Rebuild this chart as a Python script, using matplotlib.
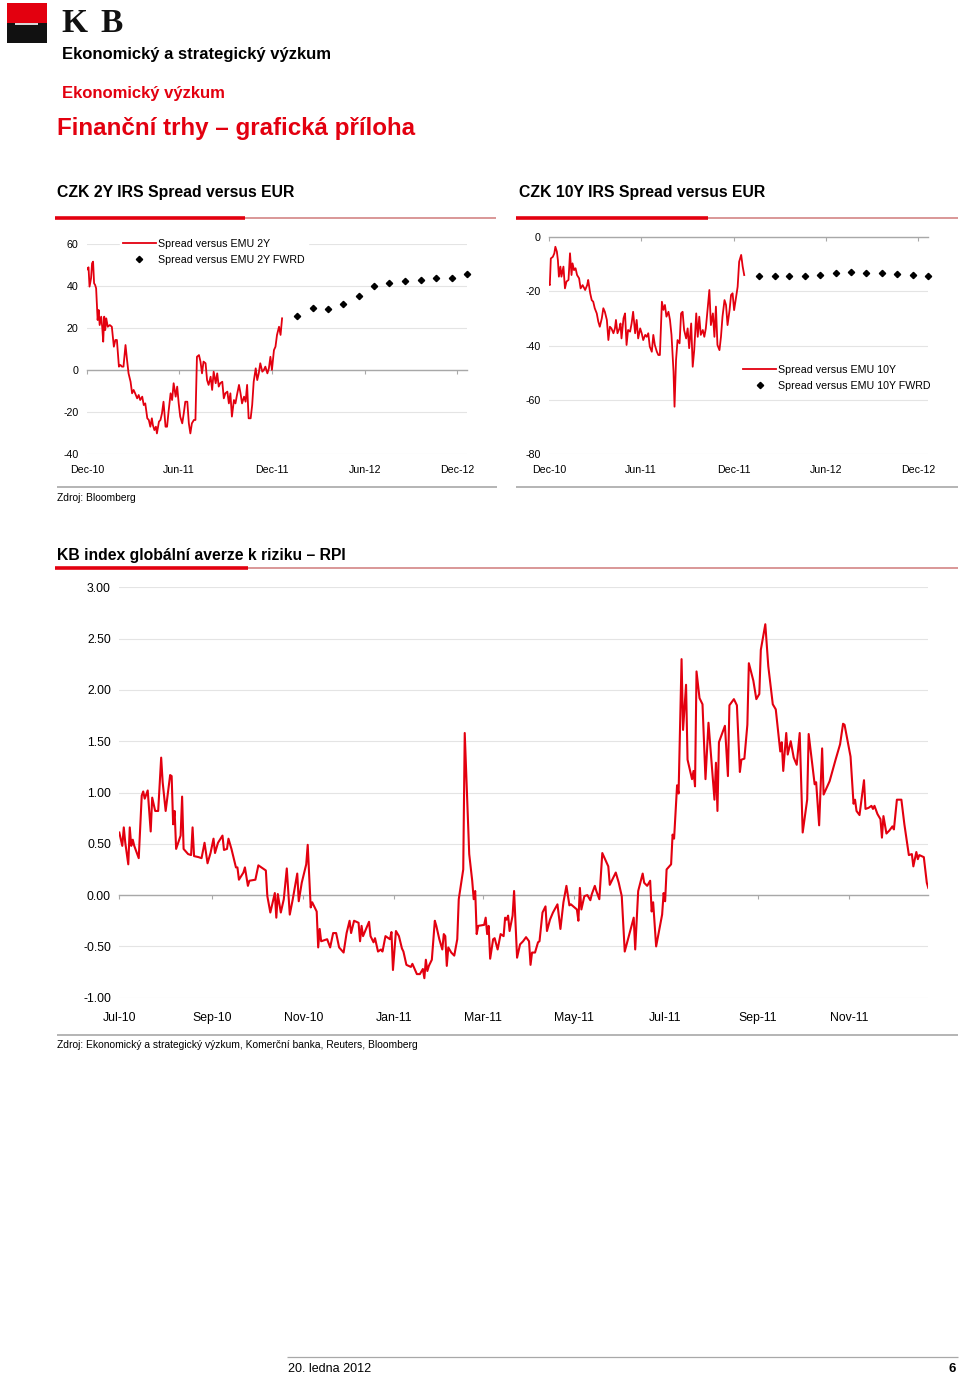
import numpy as np
import matplotlib
matplotlib.use('Agg')
import matplotlib.pyplot as plt
import matplotlib.dates as mdates
import matplotlib.ticker as mticker
from matplotlib.lines import Line2D
from matplotlib.patches import Rectangle

plt.rcParams['font.family'] = ['Liberation Sans', 'DejaVu Sans']

RED = '#e3000f'
GRID = '#e4e4e4'
AXIS = '#a8a8a8'

# --- CZK 2Y IRS spread vs EUR (bp); days after 1 Dec 2010 ---
spread2y_day = [0, 3, 5, 8, 10, 12, 14, 16, 18, 21, 23, 25, 28, 30, 32, 34, 36, 38, 41, 45,
                49, 53, 56, 59, 63, 66, 69, 72, 76, 79, 82, 86, 89, 92, 95, 99, 102, 105, 109, 112,
                115, 119, 122, 125, 128, 130, 133, 136, 138, 142, 145, 148, 151, 155, 158, 161, 165, 168, 171, 175,
                178, 181, 184, 188, 191, 194, 198, 201, 204, 207, 211, 214, 217, 221, 224, 227, 230, 234, 237, 240,
                244, 247, 250, 254, 257, 260, 263, 267, 270, 273, 277, 280, 283, 286, 290, 293, 296, 300, 303, 306,
                310, 313, 316, 319, 323, 326, 329, 333, 336, 339, 342, 346, 349, 352, 356, 359, 362, 365, 369, 372,
                375, 379, 382, 385]
spread2y = [47.9, 48.9, 39.7, 43.7, 50.8, 51.6, 41.3, 40.5, 38.9, 23.8, 28.6, 21.4, 25.4, 20.6, 13.5, 25.4, 19.0, 24.6, 20.6, 21.4,
            20.6, 11.1, 14.3, 14.3, 1.6, 2.4, 1.6, 1.6, 11.9, 4.8, -1.6, -5.6, -11.1, -9.5, -11.1, -13.5, -11.9, -14.3, -12.7, -16.7,
            -15.9, -23.0, -23.8, -27.0, -23.0, -26.2, -28.6, -27.0, -30.2, -24.6, -23.8, -20.6, -15.1, -27.0, -27.0, -19.8, -11.1, -14.3, -6.3, -12.7,
            -7.9, -15.9, -22.2, -25.4, -20.6, -15.1, -15.1, -25.4, -30.2, -25.4, -23.8, -23.8, 6.3, 7.1, 4.0, -1.6, 4.0, 3.2, -4.8, -7.1,
            -3.2, -9.5, -0.8, -6.3, -1.6, -7.9, -6.3, -5.6, -13.5, -11.1, -10.3, -15.9, -11.1, -22.2, -14.3, -15.9, -11.9, -7.1, -11.1, -15.9,
            -12.7, -15.1, -7.1, -23.0, -23.0, -16.7, -5.6, 0.8, -4.8, -1.6, 3.2, -0.8, 0.0, 1.6, -1.6, 0.8, 6.3, 0.0, 9.5, 11.1,
            16.7, 20.6, 16.7, 24.6]

fwrd_dates = ['2012-01-20', '2012-02-20', '2012-03-20', '2012-04-20', '2012-05-20', '2012-06-20',
              '2012-07-20', '2012-08-20', '2012-09-20', '2012-10-20', '2012-11-20', '2012-12-20']
fwrd2y = [25.6, 29.7, 28.9, 31.3, 35.2, 40.0, 41.4, 42.4, 43.0, 43.7, 44.0, 45.9]

# --- CZK 10Y IRS spread vs EUR (bp); days after 1 Dec 2010 ---
spread10y_day = [0, 1, 3, 7, 10, 12, 15, 17, 19, 22, 24, 28, 31, 34, 38, 41, 44, 46, 49, 52,
                 55, 59, 62, 66, 71, 75, 77, 81, 84, 87, 90, 94, 97, 100, 104, 107, 110, 114, 117, 120,
                 123, 127, 130, 132, 135, 139, 141, 143, 147, 150, 153, 156, 160, 163, 166, 170, 173, 176, 180, 183,
                 186, 190, 193, 196, 199, 203, 206, 209, 213, 216, 219, 223, 226, 229, 232, 236, 239, 242, 246, 248,
                 251, 254, 258, 261, 264, 267, 271, 274, 277, 281, 284, 287, 291, 294, 297, 300, 304, 307, 310, 314,
                 317, 320, 324, 327, 330, 333, 337, 340, 343, 347, 350, 353, 357, 360, 363, 366, 370, 373, 376, 380,
                 383, 386]
spread10y = [-17.5, -17.8, -8.0, -7.4, -6.1, -3.7, -5.5, -8.6, -14.7, -11.0, -14.7, -11.0, -19.0, -16.5, -15.9, -6.1, -14.1, -9.8, -12.3, -11.6,
             -14.1, -15.3, -19.0, -17.8, -19.6, -17.8, -15.9, -20.8, -23.3, -23.9, -26.3, -28.2, -31.2, -33.1, -30.0, -26.3, -27.6, -30.6, -38.0, -33.1,
             -33.7, -35.5, -33.7, -30.6, -35.5, -33.7, -31.9, -37.4, -30.0, -28.2, -39.8, -34.3, -34.9, -31.9, -27.6, -35.5, -30.6, -37.4, -33.7, -35.5,
             -38.0, -36.1, -36.8, -35.5, -40.4, -42.3, -36.1, -39.8, -42.3, -43.5, -43.5, -23.9, -26.9, -25.1, -29.4, -27.6, -30.6, -36.1, -49.6, -62.5,
             -45.3, -38.0, -39.2, -28.2, -27.6, -34.3, -37.4, -33.7, -41.0, -31.9, -47.8, -41.7, -28.2, -36.8, -29.4, -36.1, -34.3, -36.8, -33.7, -25.7,
             -19.6, -32.5, -28.2, -36.8, -25.7, -39.8, -41.7, -36.8, -29.4, -23.3, -25.1, -32.5, -27.0, -21.4, -20.8, -27.0, -22.1, -18.4, -9.2, -6.7,
             -11.0, -14.1]
fwrd10y = [-14.4, -14.4, -14.4, -14.3, -14.0, -13.2, -13.1, -13.2, -13.5, -13.8, -14.2, -14.6]

# --- KB risk aversion index (RPI); days after 1 Jul 2010 ---
rpi_day = [0, 2, 3, 4, 6, 7, 8, 9, 10, 13, 15, 16, 17, 19, 21, 22, 24, 26, 28, 29,
           31, 34, 35, 36, 37, 38, 41, 42, 43, 46, 48, 49, 50, 53, 55, 57, 59, 61, 63, 64,
           66, 69, 70, 72, 73, 75, 78, 79, 80, 83, 84, 86, 87, 91, 93, 98, 99, 101, 104, 105,
           106, 108, 110, 112, 114, 116, 119, 120, 122, 125, 126, 128, 129, 132, 133, 134, 135, 139, 141, 143,
           145, 147, 150, 152, 154, 155, 157, 160, 161, 162, 163, 167, 168, 170, 171, 173, 175, 176, 178, 181,
           182, 183, 185, 187, 189, 190, 192, 195, 196, 199, 201, 203, 204, 205, 206, 207, 209, 211, 212, 214,
           216, 217, 218, 219, 220, 222, 224, 226, 227, 230, 231, 234, 236, 237, 238, 239, 240, 244, 245, 246,
           247, 248, 250, 251, 253, 255, 257, 258, 259, 260, 261, 263, 264, 266, 268, 270, 272, 274, 275, 276,
           278, 280, 281, 283, 285, 286, 288, 290, 293, 295, 297, 299, 301, 302, 306, 307, 308, 309, 311, 313,
           315, 316, 318, 319, 321, 323, 327, 328, 332, 334, 336, 338, 344, 345, 347, 350, 351, 353, 355, 356,
           357, 359, 363, 364, 365, 366, 369, 370, 371, 373, 374, 376, 377, 379, 380, 383, 384, 385, 386, 388,
           390, 392, 394, 398, 399, 400, 401, 405, 407, 408, 411, 413, 415, 416, 418, 420, 421, 424, 426, 428,
           429, 432, 434, 437, 439, 442, 443, 444, 446, 447, 449, 451, 453, 455, 457, 460, 461, 465, 466, 468,
           470, 471, 475, 479, 482, 484, 485, 489, 491, 492, 493, 495, 498, 499, 501, 503, 504, 505, 507, 509,
           510, 511, 513, 515, 517, 518, 520, 523, 525, 528, 530, 531, 533, 534, 535, 538, 540, 541]
rpi = [0.61, 0.48, 0.66, 0.51, 0.30, 0.66, 0.48, 0.54, 0.48, 0.36, 0.97, 1.01, 0.94, 1.02, 0.62, 0.95, 0.82, 0.82, 1.34, 1.10,
       0.82, 1.17, 1.16, 0.69, 0.82, 0.45, 0.58, 0.96, 0.45, 0.40, 0.39, 0.66, 0.38, 0.37, 0.36, 0.51, 0.31, 0.41, 0.55, 0.41,
       0.51, 0.58, 0.44, 0.45, 0.55, 0.45, 0.27, 0.27, 0.15, 0.22, 0.27, 0.09, 0.14, 0.15, 0.29, 0.24, -0.01, -0.17, 0.02, -0.22,
       0.01, -0.17, -0.04, 0.26, -0.19, -0.04, 0.21, -0.06, 0.12, 0.30, 0.49, -0.12, -0.07, -0.16, -0.51, -0.33, -0.45, -0.43, -0.51, -0.37,
       -0.37, -0.51, -0.56, -0.37, -0.25, -0.37, -0.25, -0.27, -0.45, -0.30, -0.40, -0.26, -0.40, -0.46, -0.42, -0.55, -0.53, -0.55, -0.40, -0.43,
       -0.36, -0.73, -0.35, -0.40, -0.52, -0.55, -0.68, -0.70, -0.67, -0.77, -0.77, -0.72, -0.81, -0.63, -0.74, -0.69, -0.63, -0.25, -0.30, -0.43,
       -0.53, -0.38, -0.40, -0.69, -0.51, -0.56, -0.59, -0.43, -0.04, 0.25, 1.58, 0.40, 0.14, -0.04, 0.04, -0.38, -0.30, -0.29, -0.22, -0.38,
       -0.30, -0.62, -0.43, -0.42, -0.53, -0.38, -0.40, -0.22, -0.24, -0.20, -0.35, -0.20, 0.04, -0.61, -0.48, -0.45, -0.41, -0.45, -0.68, -0.56,
       -0.56, -0.46, -0.45, -0.17, -0.11, -0.35, -0.24, -0.17, -0.09, -0.33, -0.07, 0.09, -0.10, -0.09, -0.14, -0.25, 0.07, -0.14, -0.01, 0.00,
       -0.05, 0.01, 0.09, 0.04, -0.04, 0.41, 0.28, 0.10, 0.22, 0.12, -0.01, -0.55, -0.22, -0.53, 0.04, 0.21, 0.12, 0.09, 0.14, -0.16,
       -0.07, -0.50, -0.19, 0.02, -0.06, 0.25, 0.30, 0.59, 0.55, 1.07, 0.99, 2.30, 1.61, 2.05, 1.32, 1.13, 1.21, 1.06, 2.18, 1.92,
       1.86, 1.13, 1.68, 0.93, 1.29, 0.82, 1.49, 1.65, 1.16, 1.85, 1.91, 1.85, 1.20, 1.32, 1.33, 1.66, 2.26, 2.09, 1.91, 1.96,
       2.39, 2.64, 2.23, 1.86, 1.81, 1.40, 1.49, 1.21, 1.58, 1.37, 1.50, 1.34, 1.27, 1.58, 0.61, 0.93, 1.57, 1.08, 1.10, 0.68,
       1.43, 0.98, 1.11, 1.32, 1.47, 1.67, 1.66, 1.35, 0.89, 0.93, 0.82, 0.78, 1.12, 0.84, 0.85, 0.87, 0.84, 0.87, 0.79, 0.74,
       0.56, 0.77, 0.60, 0.63, 0.67, 0.64, 0.93, 0.93, 0.69, 0.39, 0.40, 0.28, 0.42, 0.35, 0.39, 0.37, 0.12, 0.07]

start_czk = np.datetime64('2010-12-01')
start_rpi = np.datetime64('2010-07-01')
d2y = start_czk + np.array(spread2y_day).astype('timedelta64[D]')
d10y = start_czk + np.array(spread10y_day).astype('timedelta64[D]')
dfw = np.array(fwrd_dates, dtype='datetime64[D]')
drpi = start_rpi + np.array(rpi_day).astype('timedelta64[D]')

W, H = 960, 1375
fig = plt.figure(figsize=(9.6, 13.75), dpi=100)


def fx(x):
    return x / W


def fy(y):
    return 1 - y / H


def px_axes(x0, y0, x1, y1):
    return fig.add_axes([fx(x0), fy(y1), (x1 - x0) / W, (y1 - y0) / H])


def hline(x0, x1, y, color, lw):
    fig.add_artist(Line2D([fx(x0), fx(x1)], [fy(y), fy(y)], transform=fig.transFigure,
                          color=color, lw=lw, solid_capstyle='butt'))


def style(ax, ylim, yticks, yfmt, fs, xpad, months):
    ax.set_ylim(*ylim)
    ax.set_yticks(yticks)
    ax.yaxis.set_major_formatter(mticker.FormatStrFormatter(yfmt))
    ax.yaxis.grid(True, color=GRID, lw=0.8)
    ax.set_axisbelow(True)
    for s in ['top', 'right', 'left']:
        ax.spines[s].set_visible(False)
    ax.spines['bottom'].set_position(('data', 0))
    ax.spines['bottom'].set_color(AXIS)
    ax.spines['bottom'].set_linewidth(1.0)
    ax.xaxis.set_major_locator(mdates.MonthLocator(bymonth=months))
    ax.tick_params(axis='x', length=3, color=AXIS, labelbottom=False, direction='out')
    ax.tick_params(axis='y', length=0, labelsize=fs, pad=6)
    sec = ax.secondary_xaxis('bottom')
    sec.xaxis.set_major_locator(mdates.MonthLocator(bymonth=months))
    sec.xaxis.set_major_formatter(mdates.DateFormatter('%b-%y'))
    sec.tick_params(length=0, labelsize=fs, pad=xpad)
    for s in sec.spines.values():
        s.set_visible(False)


def legend(ax, anchor):
    lg = ax.legend(loc='upper left', bbox_to_anchor=anchor, fontsize=7.7, frameon=True,
                   handlelength=3.1, handletextpad=0.2, labelspacing=0.55, borderpad=0.3,
                   borderaxespad=0, fancybox=False, numpoints=1)
    lg.get_frame().set_edgecolor('white')
    lg.get_frame().set_facecolor('white')
    lg.get_frame().set_alpha(1)


# ---- header ----
fig.add_artist(Rectangle((fx(7), fy(23)), 40 / W, 20 / H, transform=fig.transFigure, color=RED, lw=0))
fig.add_artist(Rectangle((fx(7), fy(43)), 40 / W, 20 / H, transform=fig.transFigure, color='#111111', lw=0))
hline(15, 38, 23.5, 'white', 1.2)
fig.text(fx(61), fy(24), 'K', fontsize=24, family='Liberation Serif', fontweight='bold',
         va='center', ha='left', color='#111111')
fig.text(fx(123), fy(24), 'B', fontsize=24, family='Liberation Serif', fontweight='bold',
         va='center', ha='right', color='#111111')
fig.text(fx(62), fy(54.5), 'Ekonomický a strategický výzkum', fontsize=12, fontweight='bold', va='center')
fig.text(fx(62), fy(93.5), 'Ekonomický výzkum', fontsize=12, fontweight='bold', color=RED, va='center')
fig.text(fx(57), fy(129), 'Finanční trhy – grafická příloha', fontsize=17.4, fontweight='bold', color=RED, va='center')

# ---- section titles ----
fig.text(fx(57), fy(192.5), 'CZK 2Y IRS Spread versus EUR', fontsize=11.3, fontweight='bold', va='center')
fig.text(fx(519), fy(192.5), 'CZK 10Y IRS Spread versus EUR', fontsize=11.3, fontweight='bold', va='center')
hline(55, 245, 218, RED, 2.6)
hline(245, 496, 218, '#d07a7a', 1.1)
hline(516, 708, 218, RED, 2.6)
hline(708, 958, 218, '#d07a7a', 1.1)
hline(57, 497, 487, AXIS, 1.2)
hline(516, 958, 487, AXIS, 1.2)
fig.text(fx(57), fy(498), 'Zdroj: Bloomberg', fontsize=7.4, va='center')

fig.text(fx(57), fy(555.5), 'KB index globální averze k riziku – RPI', fontsize=11.3, fontweight='bold', va='center')
hline(55, 248, 568, RED, 2.6)
hline(248, 958, 568, '#d07a7a', 1.1)
hline(57, 958, 1035, AXIS, 1.2)
fig.text(fx(57), fy(1045), 'Zdroj: Ekonomický a strategický výzkum, Komerční banka, Reuters, Bloomberg',
         fontsize=7.4, va='center')

hline(287, 958, 1357, AXIS, 0.9)
fig.text(fx(288), fy(1369), '20. ledna 2012', fontsize=9, va='center')
fig.text(fx(956), fy(1369), '6', fontsize=9.5, fontweight='bold', va='center', ha='right')

# ---- CZK 2Y chart ----
ax1 = px_axes(87, 244, 467, 454)
ax1.plot(d2y, spread2y, color=RED, lw=1.3, label='Spread versus EMU 2Y', zorder=3)
ax1.plot(dfw, fwrd2y, ls='none', marker='D', ms=3.2, color='black', label='Spread versus EMU 2Y FWRD',
         zorder=3, clip_on=False)
ax1.set_xlim(np.datetime64('2010-12-01'), np.datetime64('2012-12-20'))
style(ax1, (-40, 60), [-40, -20, 0, 20, 40, 60], '%d', 7.7, 8, [6, 12])
legend(ax1, (0.086, 1.040))

# ---- CZK 10Y chart ----
ax2 = px_axes(549.3, 236.7, 928, 454.3)
ax2.plot(d10y, spread10y, color=RED, lw=1.3, label='Spread versus EMU 10Y', zorder=3)
ax2.plot(dfw, fwrd10y, ls='none', marker='D', ms=3.2, color='black', label='Spread versus EMU 10Y FWRD',
         zorder=3, clip_on=False)
ax2.set_xlim(np.datetime64('2010-12-01'), np.datetime64('2012-12-20'))
style(ax2, (-80, 0), [-80, -60, -40, -20, 0], '%d', 7.7, 8, [6, 12])
legend(ax2, (0.503, 0.425))

# ---- RPI chart ----
ax3 = px_axes(119.3, 587.3, 928.3, 997.7)
ax3.plot(drpi, rpi, color=RED, lw=1.5, zorder=3)
ax3.set_xlim(np.datetime64('2010-07-01'), np.datetime64('2011-12-24'))
style(ax3, (-1, 3), [-1, -0.5, 0, 0.5, 1, 1.5, 2, 2.5, 3], '%.2f', 8.8, 10, [1, 3, 5, 7, 9, 11])

fig.savefig('out.png', dpi=100, facecolor='white')
